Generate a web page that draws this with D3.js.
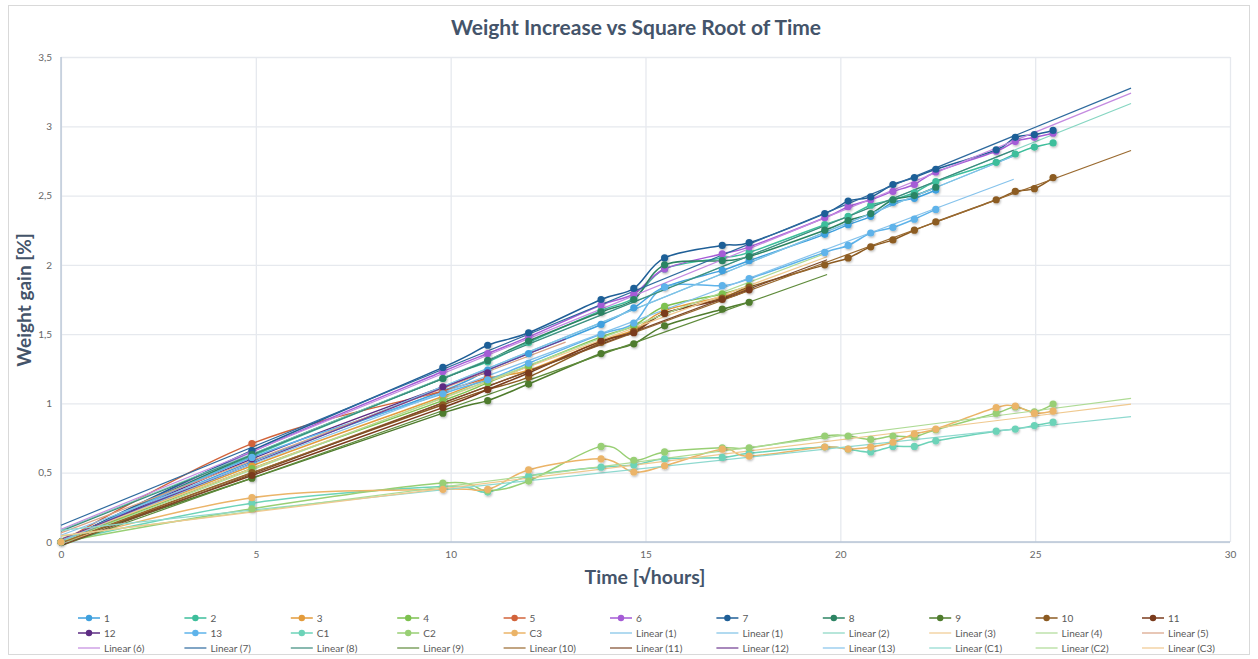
<html>
<head>
  <meta charset="utf-8">
  <title>Weight Increase vs Square Root of Time</title>
  <style>
    body { margin: 0; background: #fff; }
    text { font-family: Lato, "Open Sans", sans-serif; }
  </style>
</head>
<body>
<script src="https://cdn.jsdelivr.net/npm/d3@7/dist/d3.min.js"></script>
<script>
// sampling times, in sqrt(hours)
var sqrtHours = [0, 4.9, 9.8, 10.95, 12, 13.86, 14.7, 15.49, 16.97, 17.66, 19.6, 20.2, 20.78, 21.35, 21.9, 22.45, 24, 24.49, 24.98, 25.46]

var seriesNames = ['1', '2', '3', '4', '5', '6', '7', '8', '9', '10', '11', '12', '13', 'C1', 'C2', 'C3']

// weight gain [%], one value per sampling time (shorter = sample stopped earlier)
var s1 = [0, 0.58, 1.09, 1.24, 1.36, 1.57, 1.69, 1.84, 1.96, 2.03, 2.22, 2.29, 2.35, 2.45, 2.48, 2.54]
var s2 = [0, 0.62, 1.18, 1.30, 1.44, 1.67, 1.76, 1.97, 2.05, 2.09, 2.29, 2.35, 2.43, 2.47, 2.52, 2.60, 2.74, 2.80, 2.85, 2.88]
var s3 = [0, 0.55, 1.05, 1.18, 1.24, 1.45, 1.53, 1.67, 1.77, 1.83]
var s4 = [0, 0.53, 1.02, 1.15, 1.27, 1.48, 1.56, 1.70, 1.79, 1.85]
var s5 = [0, 0.71, 1.09, 1.19]
var s6 = [0, 0.65, 1.23, 1.36, 1.48, 1.71, 1.79, 1.97, 2.08, 2.13, 2.34, 2.42, 2.47, 2.53, 2.58, 2.67, 2.82, 2.89, 2.92, 2.95]
var s7 = [0, 0.66, 1.26, 1.42, 1.51, 1.75, 1.83, 2.05, 2.14, 2.16, 2.37, 2.46, 2.49, 2.58, 2.63, 2.69, 2.83, 2.92, 2.94, 2.97]
var s8 = [0, 0.63, 1.18, 1.31, 1.45, 1.66, 1.75, 2.00, 2.03, 2.06, 2.25, 2.32, 2.37, 2.47, 2.50, 2.56]
var s9 = [0, 0.46, 0.93, 1.02, 1.14, 1.36, 1.43, 1.56, 1.68, 1.73]
var s10 = [0, 0.50, 0.99, 1.10, 1.19, 1.44, 1.52, 1.65, 1.76, 1.84, 2.00, 2.05, 2.13, 2.18, 2.25, 2.31, 2.47, 2.53, 2.55, 2.63]
var s11 = [0, 0.48, 0.97, 1.10, 1.22, 1.45, 1.51, 1.65, 1.75, 1.82]
var s12 = [0, 0.60, 1.12, 1.22]
var s13 = [0, 0.61, 1.07, 1.17, 1.29, 1.50, 1.58, 1.84, 1.85, 1.90, 2.09, 2.14, 2.23, 2.27, 2.33, 2.40]
var sC1 = [0, 0.28, 0.40, 0.36, 0.475, 0.54, 0.555, 0.60, 0.61, 0.64, 0.685, 0.67, 0.65, 0.69, 0.69, 0.73, 0.80, 0.815, 0.84, 0.865]
var sC2 = [0, 0.24, 0.425, 0.37, 0.44, 0.69, 0.59, 0.65, 0.68, 0.68, 0.765, 0.765, 0.74, 0.765, 0.76, 0.81, 0.93, 0.975, 0.94, 0.995]
var sC3 = [0, 0.32, 0.38, 0.38, 0.52, 0.60, 0.505, 0.55, 0.67, 0.62, 0.685, 0.67, 0.685, 0.72, 0.78, 0.815, 0.97, 0.98, 0.93, 0.945]

var seriesValues = [s1, s2, s3, s4, s5, s6, s7, s8, s9, s10, s11, s12, s13, sC1, sC2, sC3]

// trendlines: which series each "Linear (..)" belongs to (series 1 has two)
var trendOf = ['1', '1', '2', '3', '4', '5', '6', '7', '8', '9', '10', '11', '12', '13', 'C1', 'C2', 'C3']

var yTicks = [0, 0.5, 1, 1.5, 2, 2.5, 3, 3.5]
var xTicks = [0, 5, 10, 15, 20, 25, 30]

var seriesColors = ['#3FA0DE', '#3DBE9B', '#E39B3B', '#7DC14F', '#D2633A', '#A55BD6', '#1F5F97', '#2C8463',
                    '#4F7C2D', '#8C5B22', '#7A3B1C', '#5D2C83', '#5EB3EA', '#6CD3B8', '#98CF74', '#EBB468']
var trendColors = ['#7DC2E6', '#7DC2E6', '#86D6C2', '#F0C98F', '#AEDB95', '#D9A285', '#C48BE0', '#2E6A9E', '#3B8A7C',
                   '#5F8B3B', '#9A6A30', '#7E4A2A', '#6E3A90', '#86C3EC', '#8ED9CF', '#AEDB95', '#F0C98F']

var width = 1258
var height = 659
var plot = {left: 61, right: 1230, top: 57, bottom: 542}

var svg = d3.select('body').append('svg')
  .attr('width', width)
  .attr('height', height)

var defs = svg.append('defs')
defs.append('filter').attr('id', 'shadow')
  .attr('x', '-50%').attr('y', '-50%').attr('width', '200%').attr('height', '200%')
  .append('feDropShadow')
  .attr('dx', 0.8).attr('dy', 1.2).attr('stdDeviation', 0.9)
  .attr('flood-color', '#000').attr('flood-opacity', 0.3)

// chart border
svg.append('rect')
  .attr('x', 8.5).attr('y', 5.5)
  .attr('width', 1241).attr('height', 649)
  .attr('fill', '#fff').attr('stroke', '#D9D9D9')

var xScale = d3.scaleLinear().domain([0, 30]).range([plot.left, plot.right])
var yScale = d3.scaleLinear().domain([0, 3.5]).range([plot.bottom, plot.top])

var commaFmt = function(d) { return String(d).replace('.', ',') }

// gridlines
var gridY = svg.append('g')
  .attr('transform', 'translate(' + plot.left + ',0)')
  .call(d3.axisLeft(yScale).tickValues(yTicks).tickSize(-(plot.right - plot.left)).tickFormat(''))
gridY.select('.domain').remove()
gridY.selectAll('line').attr('stroke', '#E6E9EE').attr('stroke-width', 1.3)

var gridX = svg.append('g')
  .attr('transform', 'translate(0,' + plot.bottom + ')')
  .call(d3.axisBottom(xScale).tickValues(xTicks).tickSize(-(plot.bottom - plot.top)).tickFormat(''))
gridX.select('.domain').remove()
gridX.selectAll('line').attr('stroke', '#E6E9EE').attr('stroke-width', 1.3)

// axis lines
svg.append('line')
  .attr('x1', plot.left).attr('x2', plot.left)
  .attr('y1', plot.top).attr('y2', plot.bottom)
  .attr('stroke', '#B7C5D6').attr('stroke-width', 1.3)
svg.append('line')
  .attr('x1', plot.left).attr('x2', plot.right)
  .attr('y1', plot.bottom).attr('y2', plot.bottom)
  .attr('stroke', '#B7C5D6').attr('stroke-width', 1.5)

// tick labels
var yAxis = svg.append('g')
  .attr('transform', 'translate(' + plot.left + ',0)')
  .call(d3.axisLeft(yScale).tickValues(yTicks).tickSize(0).tickPadding(9).tickFormat(commaFmt))
yAxis.select('.domain').remove()
yAxis.selectAll('text').attr('fill', '#666').style('font-size', '10px').style('font-family', 'Lato, sans-serif')

var xAxis = svg.append('g')
  .attr('transform', 'translate(0,' + plot.bottom + ')')
  .call(d3.axisBottom(xScale).tickValues(xTicks).tickSize(0).tickPadding(9).tickFormat(commaFmt))
xAxis.select('.domain').remove()
xAxis.selectAll('text').attr('fill', '#666').style('font-size', '10px').style('font-family', 'Lato, sans-serif')

// titles
svg.append('text')
  .attr('x', 636).attr('y', 35)
  .attr('text-anchor', 'middle')
  .attr('fill', '#44546A')
  .style('font-size', '21px').style('font-weight', 700)
  .text('Weight Increase vs Square Root of Time')

svg.append('text')
  .attr('x', 645).attr('y', 584)
  .attr('text-anchor', 'middle')
  .attr('fill', '#44546A')
  .style('font-size', '19.5px').style('font-weight', 700)
  .text('Time [√hours]')

svg.append('text')
  .attr('transform', 'translate(31,300) rotate(-90)')
  .attr('text-anchor', 'middle')
  .attr('fill', '#44546A')
  .style('font-size', '19px').style('font-weight', 700)
  .text('Weight gain [%]')

// least squares fit, like the spreadsheet's linear trendline
function linearFit(xs, ys) {
  var n = ys.length
  var mx = d3.mean(xs.slice(0, n))
  var my = d3.mean(ys)
  var sxy = 0, sxx = 0
  for (var i = 0; i < n; i++) {
    sxy += (xs[i] - mx) * (ys[i] - my)
    sxx += (xs[i] - mx) * (xs[i] - mx)
  }
  var slope = sxy / sxx
  return {slope: slope, intercept: my - slope * mx, xEnd: xs[n - 1] + 2}
}

var line = d3.line()
  .x(function(d) { return xScale(d[0]) })
  .y(function(d) { return yScale(d[1]) })

var smooth = d3.line()
  .x(function(d) { return xScale(d[0]) })
  .y(function(d) { return yScale(d[1]) })
  .curve(d3.curveCardinal.tension(0))

var seriesData = seriesValues.map(function(vals) {
  return vals.map(function(v, i) { return [sqrtHours[i], v] })
})

// data lines
svg.append('g').selectAll('path')
  .data(seriesData)
  .enter()
  .append('path')
  .attr('d', smooth)
  .attr('fill', 'none')
  .attr('stroke', function(d, i) { return seriesColors[i] })
  .attr('stroke-width', 1.5)

// trendlines
svg.append('g').selectAll('path')
  .data(trendOf)
  .enter()
  .append('path')
  .attr('d', function(name) {
    var k = seriesNames.indexOf(name)
    var f = linearFit(sqrtHours, seriesValues[k])
    return line([[0, f.intercept], [f.xEnd, f.intercept + f.slope * f.xEnd]])
  })
  .attr('fill', 'none')
  .attr('stroke', function(d, i) { return trendColors[i] })
  .attr('stroke-width', 1.2)

// markers
var markers = svg.append('g').attr('filter', 'url(#shadow)')
seriesData.forEach(function(pts, i) {
  markers.append('g').selectAll('circle')
    .data(pts)
    .enter()
    .append('circle')
    .attr('cx', function(d) { return xScale(d[0]) })
    .attr('cy', function(d) { return yScale(d[1]) })
    .attr('r', 3.6)
    .attr('fill', seriesColors[i])
})

// legend
var legendItems = seriesNames.map(function(n, i) {
  return {label: n, color: seriesColors[i], marker: true}
}).concat(trendOf.map(function(n, i) {
  return {label: 'Linear (' + n + ')', color: trendColors[i], marker: false}
}))

var legendRows = [618, 633, 648]
var legend = svg.append('g')
var item = legend.selectAll('g')
  .data(legendItems)
  .enter()
  .append('g')
  .attr('transform', function(d, i) {
    return 'translate(' + (78 + (i % 11) * 106.4) + ',' + legendRows[Math.floor(i / 11)] + ')'
  })
item.append('line')
  .attr('x1', 0).attr('x2', 22)
  .attr('stroke', function(d) { return d.color })
  .attr('stroke-width', function(d) { return d.marker ? 1.5 : 1.2 })
item.filter(function(d) { return d.marker })
  .append('circle')
  .attr('cx', 11).attr('r', 3.2)
  .attr('fill', function(d) { return d.color })
item.append('text')
  .attr('x', 26).attr('dy', '0.35em')
  .attr('fill', '#595959')
  .style('font-size', '10px')
  .text(function(d) { return d.label })
</script>
</body>
</html>
